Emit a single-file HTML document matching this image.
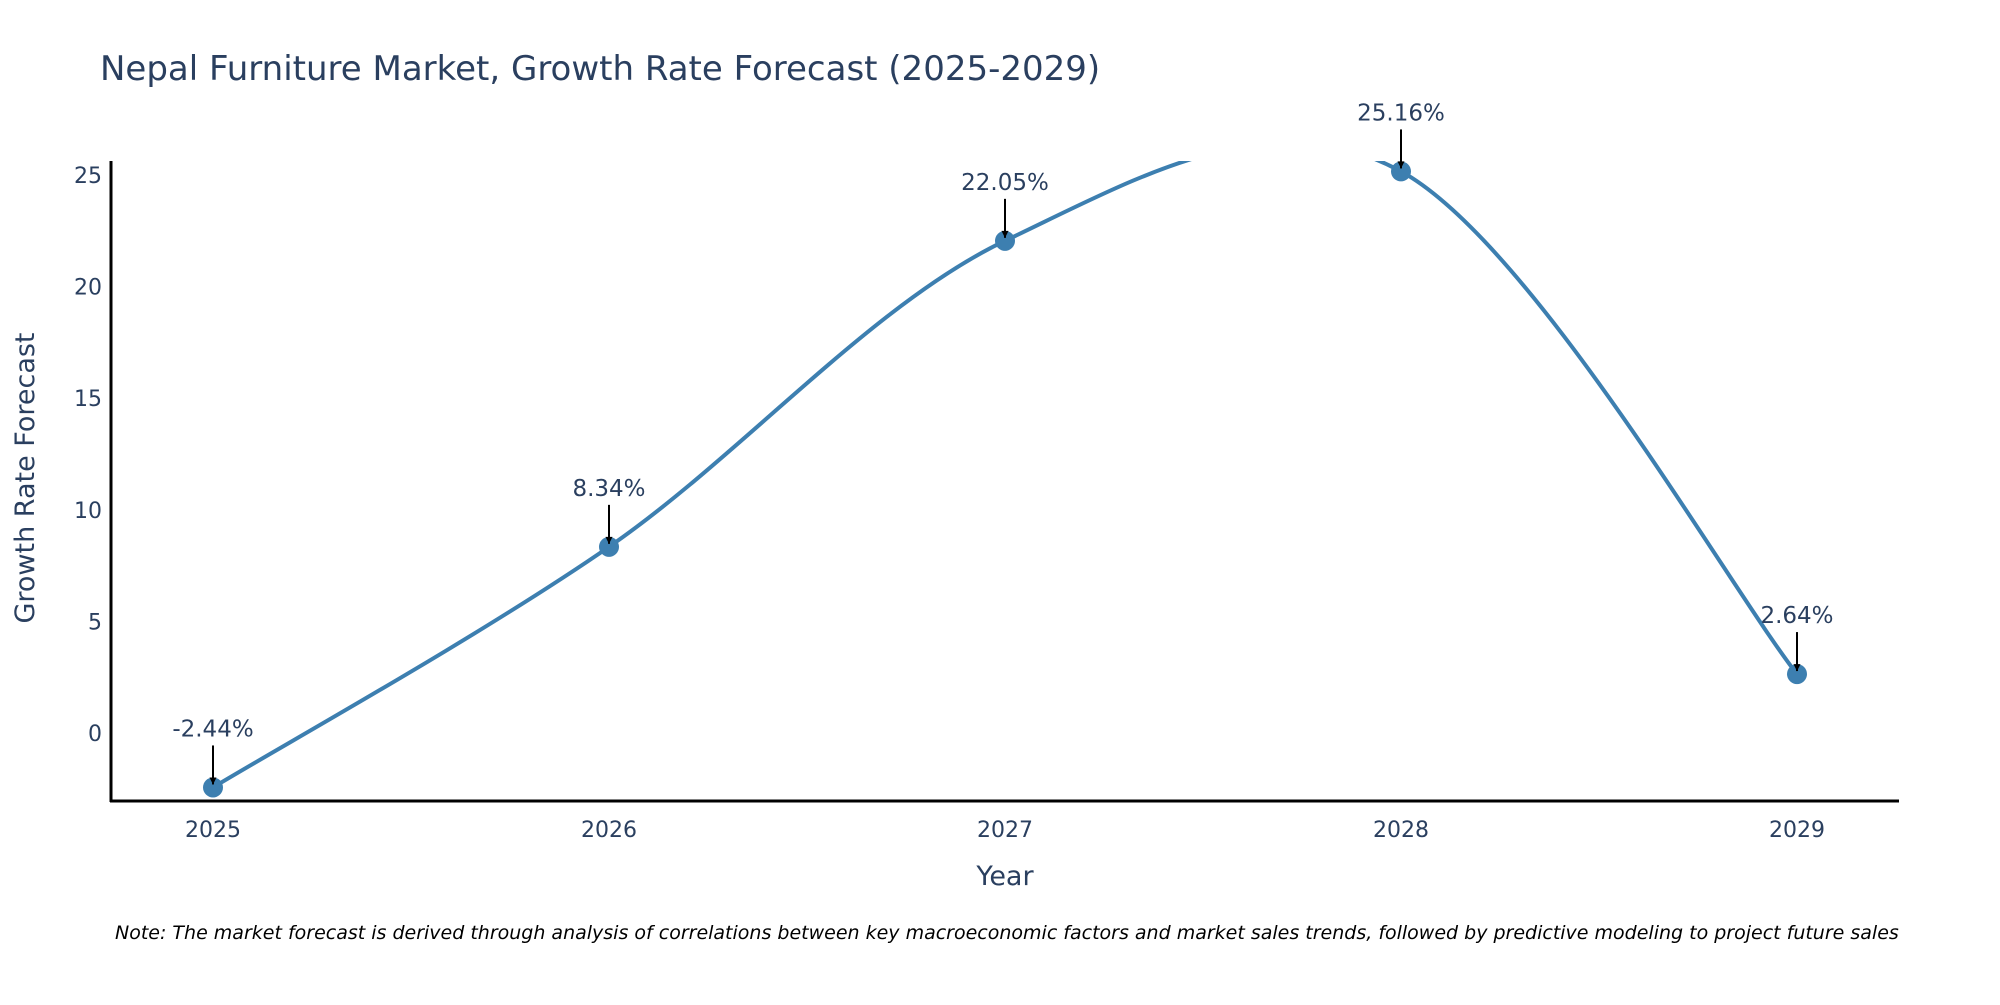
<!DOCTYPE html>
<html><head><meta charset="utf-8"><style>
body{margin:0;background:#fff;width:2000px;height:1000px;overflow:hidden}
text{font-family:"DejaVu Sans","Liberation Sans",sans-serif;fill:#2a3f5f}
</style></head><body>
<svg id="chart" width="2000" height="1000" xmlns="http://www.w3.org/2000/svg">
<defs><clipPath id="clip"><rect x="111" y="161" width="1788" height="640"/></clipPath>
<marker id="ah" viewBox="0 0 10 10" refX="10" refY="5" markerWidth="8" markerHeight="7" markerUnits="userSpaceOnUse" orient="auto"><path d="M0,0 L10,5 L0,10 z" fill="#000"/></marker></defs>
<text x="100" y="80" font-size="34">Nepal Furniture Market, Growth Rate Forecast (2025-2029)</text>
<g id="yticks"></g>
<g id="xticks"></g>
<g id="series" clip-path="url(#clip)"></g>
<g id="ann"></g>
<line x1="111" y1="161" x2="111" y2="802" stroke="#000" stroke-width="3"/>
<line x1="110" y1="801" x2="1899" y2="801" stroke="#000" stroke-width="3"/>
<text transform="translate(34,478) rotate(-90)" text-anchor="middle" font-size="27">Growth Rate Forecast</text>
<text x="1005" y="885" text-anchor="middle" font-size="27">Year</text>
<text x="115" y="939" font-size="19" font-style="italic" style="fill:#000">Note: The market forecast is derived through analysis of correlations between key macroeconomic factors and market sales trends, followed by predictive modeling to project future sales</text>
</svg>
<script>
const years=[2025,2026,2027,2028,2029];
const values=[-2.44,8.34,22.05,25.16,2.64];
const labels=["-2.44%","8.34%","22.05%","25.16%","2.64%"];
const yTicks=[0,5,10,15,20,25];
const NS="http://www.w3.org/2000/svg";
const X=v=>213+(v-2025)*396;
const Y=v=>733-v*22.32;
function mk(t,a,p){const e=document.createElementNS(NS,t);for(const k in a)e.setAttribute(k,a[k]);p.appendChild(e);return e;}
const yt=document.getElementById('yticks');
yTicks.forEach(v=>{const t=mk('text',{x:102,y:Y(v)+8,'text-anchor':'end','font-size':22},yt);t.textContent=v;

});
const xt=document.getElementById('xticks');
years.forEach(v=>{const t=mk('text',{x:X(v),y:837,'text-anchor':'middle','font-size':22},xt);t.textContent=v;

});
const pts=years.map((y,i)=>[X(y),Y(values[i])]);
let d=`M${pts[0][0]},${pts[0][1]}`;
for(let i=0;i<pts.length-1;i++){
 const p0=pts[Math.max(i-1,0)],p1=pts[i],p2=pts[i+1],p3=pts[Math.min(i+2,pts.length-1)];
 const k=1/6;
 const c1=[p1[0]+(p2[0]-p0[0])*k,p1[1]+(p2[1]-p0[1])*k];
 const c2=[p2[0]-(p3[0]-p1[0])*k,p2[1]-(p3[1]-p1[1])*k];
 d+=` C${c1[0]},${c1[1]} ${c2[0]},${c2[1]} ${p2[0]},${p2[1]}`;
}
const s=document.getElementById('series');
const line=mk('path',{d:d,fill:'none',stroke:'#3d7fb0','stroke-width':4},s);


const an=document.getElementById('ann');
pts.forEach((p,i)=>{
 const c=mk('circle',{cx:p[0],cy:p[1],r:10,fill:'#3d7fb0'},s);
 
 
 const a=mk('line',{x1:p[0],y1:p[1]-42,x2:p[0],y2:p[1]-3,stroke:'#000','stroke-width':2,'marker-end':'url(#ah)'},an);
 
 
 const t=mk('text',{x:p[0],y:p[1]-51,'text-anchor':'middle','font-size':23},an);t.textContent=labels[i];
 
 
});
</script>
</body></html>
